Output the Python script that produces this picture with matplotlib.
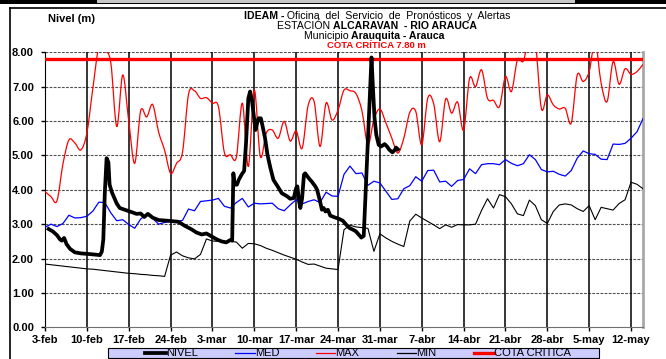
import matplotlib
matplotlib.use("Agg")
import numpy as np
from matplotlib import pyplot as plt
from matplotlib.lines import Line2D
from matplotlib.patches import Rectangle, PathPatch
from matplotlib.path import Path

plt.rcParams['font.family'] = ['Liberation Sans', 'DejaVu Sans']

W, H = 666, 359

# dias contados desde el 3-feb
tick_dias = [0, 7, 14, 21, 28, 35, 42, 49, 56, 63, 70, 77, 84, 91, 98]
tick_labels = ["3-feb", "10-feb", "17-feb", "24-feb", "3-mar", "10-mar", "17-mar",
               "24-mar", "31-mar", "7-abr", "14-abr", "21-abr", "28-abr", "5-may", "12-may"]

cota_critica = 7.80

# nivel observado (lecturas varias por dia)
nivel_dia = [0.6, 1.3, 2.0, 2.5, 2.8, 3.2, 3.6, 4.2, 5.0, 6.0, 7.5, 9.2, 9.5, 9.75,
             10.0, 10.3, 10.6, 10.8, 11.2, 12.0, 12.5, 13.5, 14.5, 15.3, 16.0, 16.6,
             17.2, 18.0, 19.0, 20.5, 22.3, 23.4, 24.5, 25.3, 26.2, 27.0, 27.8, 28.7,
             29.5, 30.3, 31.0, 31.3, 31.5, 31.7, 32.1, 32.4, 32.9, 33.3, 33.6, 34.0,
             34.3, 34.6, 34.9, 35.2, 35.4, 35.7, 36.1, 36.4, 36.8, 37.2, 37.7, 38.2,
             38.9, 39.6, 40.5, 41.0, 41.6, 42.0, 42.2, 42.5, 42.7, 43.0, 43.3, 43.5,
             44.1, 44.6, 45.2, 45.5, 46.0, 46.3, 46.6, 46.9, 47.3, 47.7, 48.4, 49.1,
             49.8, 50.4, 50.9, 51.5, 52.0, 52.5, 52.9, 53.3, 54.6, 54.8, 55.1, 55.4,
             55.8, 56.2, 56.8, 57.2, 57.6, 58.1, 58.5, 58.7, 59.0]
nivel = [2.86, 2.79, 2.68, 2.56, 2.52, 2.60, 2.42, 2.28, 2.18, 2.15, 2.13, 2.10, 2.20, 2.55,
         3.90, 4.92, 4.80, 4.15, 3.92, 3.60, 3.47, 3.41, 3.35, 3.30, 3.31, 3.21,
         3.30, 3.19, 3.12, 3.10, 3.07, 2.95, 2.85, 2.76, 2.70, 2.73, 2.65, 2.56,
         2.50, 2.47, 2.54, 2.52, 4.48, 4.15, 4.15, 4.29, 4.45, 4.55, 5.31, 6.66,
         6.86, 6.61, 6.18, 5.74, 5.89, 6.08, 6.08, 5.84, 5.50, 5.02, 4.63, 4.29,
         4.10, 3.90, 3.81, 3.74, 3.76, 4.05, 4.10, 3.66, 3.47, 3.76, 4.44, 4.48,
         4.34, 4.24, 4.10, 4.00, 3.66, 3.42, 3.47, 3.37, 3.42, 3.25, 3.20, 3.16,
         3.10, 2.98, 2.89, 2.84, 2.79, 2.69, 2.61, 2.66, 7.85, 7.10, 6.10, 5.60,
         5.31, 5.26, 5.33, 5.26, 5.16, 5.09, 5.16, 5.23, 5.18]

# series historicas diarias (dia 0 .. 100)
med = [2.91, 3.00, 2.93, 3.02, 3.26, 3.18, 3.19, 3.23, 3.38, 3.64,
       3.63, 3.33, 3.10, 3.13, 2.99, 2.88, 3.15, 3.29, 3.17, 3.00,
       3.05, 3.09, 3.08, 3.11, 3.44, 3.39, 3.66, 3.68, 3.70, 3.75,
       3.52, 3.47, 3.63, 3.75, 3.50, 3.61, 3.59, 3.60, 3.61, 3.45,
       3.39, 3.56, 3.71, 3.59, 3.66, 3.71, 3.63, 3.93, 3.82, 3.81,
       4.45, 4.69, 4.47, 4.49, 4.13, 4.25, 4.20, 3.96, 3.72, 3.74,
       4.03, 4.12, 4.38, 4.25, 4.56, 4.57, 4.23, 4.25, 4.10, 4.27,
       4.30, 4.61, 4.47, 4.73, 4.76, 4.76, 4.73, 4.88, 4.77, 4.70,
       4.76, 5.02, 4.88, 4.59, 4.52, 4.54, 4.45, 4.40, 4.56, 4.92,
       5.13, 5.05, 5.03, 4.89, 4.88, 5.33, 5.32, 5.35, 5.50, 5.69,
       6.07]
maxi = [3.95, 3.80, 3.68, 4.75, 5.45, 5.36, 5.16, 5.65, 6.95, 8.15,
        8.05, 7.70, 5.84, 7.34, 6.00, 4.77, 6.30, 6.12, 6.48, 5.68,
        5.15, 4.48, 4.77, 5.10, 6.78, 6.88, 6.66, 6.68, 6.52, 6.42,
        5.08, 5.02, 4.95, 6.52, 4.68, 6.90, 4.97, 5.65, 5.74, 5.50,
        5.99, 5.42, 5.71, 5.21, 6.45, 6.57, 5.26, 6.52, 6.03, 6.32,
        6.90, 6.88, 6.80, 6.30, 5.31, 6.05, 6.35, 5.95, 5.50, 5.07,
        5.50, 6.25, 6.28, 5.31, 6.66, 6.50, 5.40, 6.64, 6.23, 6.55,
        5.74, 7.24, 7.00, 7.49, 6.66, 6.60, 6.42, 7.29, 6.86, 7.78,
        7.75, 8.50, 8.30, 6.37, 6.76, 6.47, 6.35, 6.37, 5.94, 7.34,
        7.15, 7.44, 8.30, 7.10, 6.57, 7.73, 7.07, 7.52, 7.36, 7.44,
        7.65]
mini = [1.84, 1.82, 1.80, 1.78, 1.76, 1.74, 1.72, 1.70, 1.69, 1.67,
        1.65, 1.63, 1.61, 1.59, 1.57, 1.56, 1.54, 1.53, 1.51, 1.50,
        1.48, 2.10, 2.19, 2.08, 2.02, 1.99, 2.12, 2.57, 2.51, 2.50,
        2.50, 2.50, 2.48, 2.30, 2.44, 2.43, 2.38, 2.30, 2.24, 2.17,
        2.10, 2.04, 1.98, 1.90, 1.83, 1.84, 1.78, 1.72, 1.70, 1.68,
        2.84, 2.97, 2.92, 2.90, 2.88, 2.21, 2.72, 2.60, 2.50, 2.42,
        2.35, 3.09, 3.29, 3.18, 3.08, 2.98, 2.87, 2.98, 2.91, 2.99,
        2.98, 2.98, 3.00, 3.40, 3.74, 3.47, 3.86, 3.80, 3.59, 3.30,
        3.25, 3.70, 3.54, 3.13, 3.02, 3.37, 3.56, 3.59, 3.56, 3.45,
        3.37, 3.54, 3.13, 3.49, 3.45, 3.41, 3.60, 3.71, 4.22, 4.16,
        4.03]
dias = np.arange(len(med))


def px(x):
    return x / W


def py(y):
    return 1 - y / H


def smooth_path(x, y):
    # curva suavizada tipo Bezier que pasa por cada punto
    x = np.asarray(x, float)
    y = np.asarray(y, float)
    pts = np.column_stack([x, y])
    n = len(pts)
    verts = [pts[0]]
    codes = [Path.MOVETO]
    for i in range(n - 1):
        p0 = pts[i - 1] if i > 0 else pts[i]
        p1 = pts[i]
        p2 = pts[i + 1]
        p3 = pts[i + 2] if i + 2 < n else pts[i + 1]
        c1 = p1 + (p2 - p0) / 6
        c2 = p2 - (p3 - p1) / 6
        verts += [c1, c2, p2]
        codes += [Path.CURVE4] * 3
    return Path(verts, codes)


fig = plt.figure(figsize=(W / 100, H / 100), dpi=100)
ax = fig.add_axes([px(45), py(327.3), px(643 - 45), (327.3 - 52.3) / H])

ax.plot(dias, med, color="#0000ff", lw=0.9, zorder=3)
ax.add_patch(PathPatch(smooth_path(dias, maxi), fill=False, edgecolor="#ff0000", lw=0.9, zorder=4))
ax.plot(dias, mini, color="black", lw=0.8, zorder=5)
ax.axhline(cota_critica, color="#ff0000", lw=2.4, zorder=6)
ax.plot(nivel_dia, nivel, color="black", lw=2.7, solid_joinstyle="round", zorder=7)

ax.set_xlim(0, 100)
ax.set_ylim(0, 8)
ax.set_xticks(tick_dias)
ax.set_xticklabels(tick_labels, fontsize=8, fontweight="bold")
ax.set_yticks(range(9))
ax.set_yticklabels(["%.2f" % v for v in range(9)], fontsize=8, fontweight="bold")
ax.tick_params(axis="x", direction="out", length=3, width=1, pad=2.5)
ax.tick_params(axis="y", direction="out", length=3, width=1, pad=5)

for v in range(1, 9):
    ax.axhline(v, color="#505050", lw=0.8, ls=(0, (2.5, 1.2)), zorder=1)
for d in tick_dias[1:]:
    ax.axvline(d, color="black", lw=1.1, zorder=1)

ax.spines["top"].set_visible(False)
ax.spines["left"].set_color("black")
ax.spines["bottom"].set_color("#707070")
ax.spines["right"].set_color("#a8a8a8")
ax.spines["right"].set_linewidth(2)


def rich_line(parts, cx, cy, size):
    r = fig.canvas.get_renderer()
    texts, widths = [], []
    for s, weight, color in parts:
        t = fig.text(0, py(cy), s, fontsize=size, fontweight=weight, color=color,
                     ha="left", va="baseline")
        probe = fig.text(0, 0, "x" + s + "x", fontsize=size, fontweight=weight)
        probe2 = fig.text(0, 0, "xx", fontsize=size, fontweight=weight)
        w = probe.get_window_extent(r).width - probe2.get_window_extent(r).width
        probe.remove()
        probe2.remove()
        texts.append(t)
        widths.append(w)
    x = cx - sum(widths) / 2
    for t, w in zip(texts, widths):
        t.set_x(px(x))
        x += w


# encabezado (posiciones en linea base)
title_size = 7.6
rich_line([("IDEAM -", "bold", "black"), (" Oficina  del  Servicio  de  Pronósticos  y  Alertas", "normal", "black")],
          377, 18.6, title_size)
rich_line([("ESTACIÓN ", "normal", "black"), ("ALCARAVAN  - RIO ARAUCA", "bold", "black")],
          377, 29.2, title_size)
rich_line([("Municipio ", "normal", "black"), ("Arauquita - Arauca", "bold", "black")],
          374, 39.0, title_size)
fig.text(px(376), py(47.5), "COTA CRÍTICA 7.80 m", fontsize=6.8, fontweight="bold",
         color="#ff0000", ha="center", va="baseline")
fig.text(px(48), py(19), "Nivel (m)", fontsize=8, fontweight="bold",
         ha="left", va="center")

# marco del grafico
fig.add_artist(Rectangle((0, py(3.5)), 1, 3.5 / H, transform=fig.transFigure,
                         facecolor="black", edgecolor="none"))
fig.add_artist(Rectangle((px(97), py(2.8)), px(575 - 97), 2.8 / H, transform=fig.transFigure,
                         facecolor="#c8c8c8", edgecolor="none"))
fig.add_artist(Line2D([px(10), 1], [py(8), py(8)], transform=fig.transFigure,
                      color="black", lw=1.2))
fig.add_artist(Line2D([px(10), px(10)], [py(8), 0], transform=fig.transFigure,
                      color="black", lw=1.2))

# leyenda
ly = 353
fig.add_artist(Rectangle((px(108), py(358.4)), px(599 - 108), (358.4 - 347.7) / H,
                         transform=fig.transFigure, facecolor="#ccccff",
                         edgecolor="black", lw=0.8))
entradas = [
    ("NIVEL", 145, 166, "black", 2.7),
    ("MED", 235, 255, "#0000ff", 0.9),
    ("MAX", 316, 335, "#ff0000", 0.9),
    ("MIN", 397, 416, "black", 0.9),
    ("COTA CRITICA", 474, 494, "#ff0000", 2.4),
]
for nombre, x0, x1, color, lw in entradas:
    fig.add_artist(Line2D([px(x0), px(x1)], [py(ly), py(ly)], transform=fig.transFigure,
                          color=color, lw=lw))
    fig.text(px(x1 + 0.5), py(ly), nombre, fontsize=8, ha="left", va="center")

fig.savefig("out.png", dpi=100)
